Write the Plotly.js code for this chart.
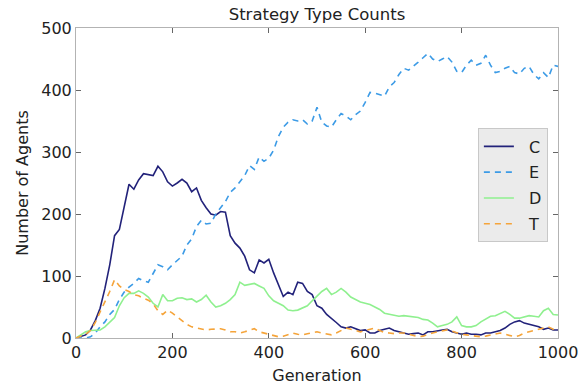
<!DOCTYPE html>
<html>
<head>
<meta charset="utf-8">
<script src="https://cdn.plot.ly/plotly-3.0.1.min.js"></script>
<style>html,body{margin:0;padding:0;background:#fff;}#chart{width:581px;height:385px;}</style>
</head>
<body>
<div id="chart"></div>
<script>
const generations = [0,10,20,30,40,50,60,70,80,90,100,110,120,130,140,150,160,170,180,190,200,210,220,230,240,250,260,270,280,290,300,310,320,330,340,350,360,370,380,390,400,410,420,430,440,450,460,470,480,490,500,510,520,530,540,550,560,570,580,590,600,610,620,630,640,650,660,670,680,690,700,710,720,730,740,750,760,770,780,790,800,810,820,830,840,850,860,870,880,890,900,910,920,930,940,950,960,970,980,990,1000];
const seriesC = [0,2,5,13,28,48,80,118,165,175,210,248,240,255,265,264,262,277,268,252,245,250,256,250,236,242,222,210,200,198,204,203,165,153,145,132,110,105,126,121,127,105,85,67,74,70,90,88,75,70,52,48,38,32,25,18,16,18,15,12,13,8,8,12,14,16,12,10,8,6,7,8,5,10,10,12,13,14,10,8,6,8,6,6,5,8,8,10,12,16,22,26,28,24,22,21,18,14,16,13,13];
const seriesE = [0,0,0,2,8,18,26,38,46,62,74,82,88,96,92,90,104,118,115,110,118,125,132,150,160,180,190,184,185,200,210,220,235,242,252,262,278,272,292,285,290,303,325,340,348,352,350,352,345,350,372,348,342,340,352,362,358,352,360,366,380,396,395,392,390,405,412,425,435,432,438,445,452,459,450,446,450,454,445,430,428,440,448,440,443,456,440,428,430,435,438,428,426,435,438,425,418,428,420,440,438];
const seriesD = [0,5,10,12,13,13,18,25,33,52,65,72,72,76,72,66,56,50,70,60,60,64,65,62,63,58,62,69,58,50,52,56,62,70,90,85,86,88,84,80,68,60,56,52,45,44,45,48,52,60,67,75,80,70,74,80,74,66,62,58,56,54,50,46,40,38,37,35,36,35,35,33,30,29,24,18,20,22,26,34,20,18,18,20,26,30,35,36,40,43,38,32,32,34,36,35,34,44,48,38,37];
const seriesT = [0,3,6,12,25,42,58,75,94,84,78,75,70,68,64,61,55,44,38,45,40,34,28,22,18,16,14,13,14,15,15,13,10,10,8,10,12,15,10,8,6,3,2,3,5,8,6,5,7,9,10,8,6,5,8,12,16,14,12,10,12,14,16,12,9,8,7,8,8,6,4,2,3,6,8,10,12,13,11,8,6,5,4,3,2,3,5,7,8,6,4,2,4,8,10,12,14,17,18,14,13];
const names = ['C','E','D','T'];
const xTicks = [0,200,400,600,800,1000];
const yTicks = [0,100,200,300,400,500];

const styles = [
  {color:'#22227a', width:1.6, dash:'solid'},
  {color:'#3c9be6', width:1.6, dash:'6px,5px'},
  {color:'#8ff08f', width:1.6, dash:'solid'},
  {color:'#f5a43a', width:1.6, dash:'6px,5px'}
];
const allSeries = [seriesC, seriesE, seriesD, seriesT];
const traces = allSeries.map((s,i)=>({
  x: generations, y: s, name: '\u00a0\u00a0' + names[i], legendgroup: names[i], type:'scatter', mode:'lines',
  line: styles[i]
}));

const font = {family:'"DejaVu Sans", sans-serif', color:'#222', size:16};
const axisBase = {
  showgrid:false, zeroline:false, showline:true, linecolor:'#b3b3b3', linewidth:1,
  mirror:'ticks', ticks:'inside', ticklen:5, tickcolor:'#666', tickwidth:1,
  tickfont:{family:font.family, size:16, color:'#222'}
};
const layout = {
  width:581, height:385,
  margin:{l:76, r:23, t:28, b:47},
  paper_bgcolor:'#fff', plot_bgcolor:'#fff',
  font: font,
  title:{text:'Strategy Type Counts', font:{family:font.family, size:16.5, color:'#222'},
    xref:'paper', x:0.5, xanchor:'center', yref:'container', y:0.962, yanchor:'middle'},
  xaxis: Object.assign({}, axisBase, {range:[0,1000], tickvals:xTicks, ticktext:xTicks.map(String),
    title:{text:'Generation', font:{family:font.family, size:16, color:'#222'}, standoff:8}}),
  yaxis: Object.assign({}, axisBase, {range:[0,500], tickvals:yTicks, ticktext:yTicks.map(String),
    title:{text:'Number of Agents', font:{family:font.family, size:16, color:'#222'}, standoff:8}}),
  showlegend:true,
  legend:{x:0.979, xanchor:'right', y:0.676, yanchor:'top', bgcolor:'#ebebeb', bordercolor:'#c8c8c8', borderwidth:1,
    font:{family:font.family, size:16, color:'#222'}, tracegroupgap:2}
};
Plotly.newPlot('chart', traces, layout, {staticPlot:true, displayModeBar:false});
</script>
</body>
</html>
